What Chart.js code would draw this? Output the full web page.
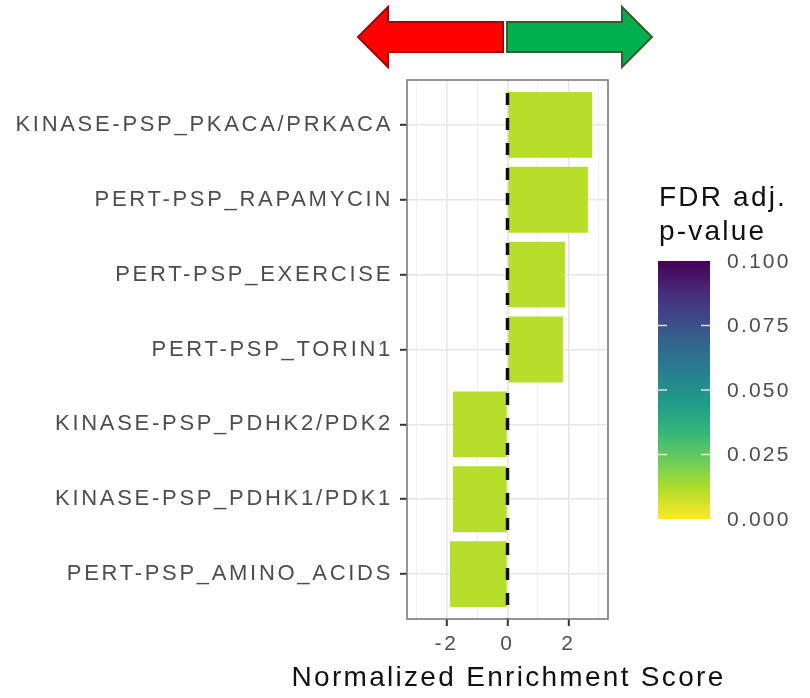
<!DOCTYPE html>
<html>
<head>
<meta charset="utf-8">
<script src="https://cdn.jsdelivr.net/npm/chart.js@4.4.1/dist/chart.umd.min.js"></script>
<style>
  html, body { margin: 0; padding: 0; background: #fff; }
  canvas { display: block; }
</style>
</head>
<body>
<canvas id="nesChart" width="810" height="698"></canvas>
<script>
// gene set names, top to bottom
const pathways = [
  "KINASE-PSP_PKACA/PRKACA",
  "PERT-PSP_RAPAMYCIN",
  "PERT-PSP_EXERCISE",
  "PERT-PSP_TORIN1",
  "KINASE-PSP_PDHK2/PDK2",
  "KINASE-PSP_PDHK1/PDK1",
  "PERT-PSP_AMINO_ACIDS"
];
const nes = [2.78, 2.64, 1.89, 1.82, -1.79, -1.79, -1.89];
const fdr = [0.011, 0.011, 0.011, 0.011, 0.011, 0.011, 0.011];
const xLabels = [-2, 0, 2];
const xGrid = [-3, -2, -1, 0, 1, 2, 3];
const legendTicks = [0.000, 0.025, 0.050, 0.075, 0.100];
const fdrMax = 0.1;
const xTitle = "Normalized Enrichment Score";

// viridis stops (0 -> 1)
const viridis = ["#440154", "#482878", "#3e4989", "#31688e", "#26828e",
                 "#1f9e89", "#35b779", "#6ece58", "#b5de2b", "#fde725"];

function hexToRgb(h) {
  return [parseInt(h.slice(1, 3), 16), parseInt(h.slice(3, 5), 16), parseInt(h.slice(5, 7), 16)];
}
function viridisAt(t) {
  t = Math.max(0, Math.min(1, t));
  const pos = t * (viridis.length - 1);
  const i = Math.min(Math.floor(pos), viridis.length - 2);
  const f = pos - i;
  const a = hexToRgb(viridis[i]), b = hexToRgb(viridis[i + 1]);
  const c = a.map((v, k) => Math.round(v + (b[k] - v) * f));
  return `rgb(${c[0]},${c[1]},${c[2]})`;
}
// low p-value -> yellow
const fdrColor = p => viridisAt(1 - p / fdrMax);

const FONT = "'Liberation Sans', Arial, sans-serif";
const SPACING = "2.7px";

const spacingPlugin = {
  id: "spacing",
  beforeUpdate(chart) { chart.ctx.letterSpacing = SPACING; },
  beforeDraw(chart) {
    const ctx = chart.ctx;
    ctx.letterSpacing = SPACING;
    ctx.save();
    ctx.fillStyle = "#fff";
    ctx.fillRect(0, 0, chart.width, chart.height);
    ctx.restore();
  }
};

const panelPlugin = {
  id: "panel",
  afterDatasetsDraw(chart) {
    const ctx = chart.ctx, a = chart.chartArea;
    const x0 = chart.scales.x.getPixelForValue(0);
    ctx.save();
    // dashed reference line at 0
    ctx.strokeStyle = "#111";
    ctx.lineWidth = 3.5;
    ctx.setLineDash([12, 13]);
    ctx.lineDashOffset = 12;
    ctx.beginPath();
    ctx.moveTo(x0, a.top);
    ctx.lineTo(x0, a.bottom);
    ctx.stroke();
    ctx.setLineDash([]);
    ctx.strokeStyle = "#7a7a7a";
    ctx.lineWidth = 1.6;
    ctx.strokeRect(a.left, a.top, a.right - a.left, a.bottom - a.top);

    // x axis title, centred on the panel
    ctx.fillStyle = "#111";
    ctx.font = `28px ${FONT}`;
    ctx.letterSpacing = "2.3px";
    ctx.textAlign = "center";
    ctx.textBaseline = "middle";
    ctx.fillText(xTitle, (a.left + a.right) / 2 + 1, 678);
    ctx.restore();
  }
};

function drawArrow(ctx, tail, base, tip, fill, stroke) {
  const mid = 37, bodyH = 15, headH = 30;
  ctx.beginPath();
  ctx.moveTo(tail, mid - bodyH);
  ctx.lineTo(base, mid - bodyH);
  ctx.lineTo(base, mid - headH);
  ctx.lineTo(tip, mid);
  ctx.lineTo(base, mid + headH);
  ctx.lineTo(base, mid + bodyH);
  ctx.lineTo(tail, mid + bodyH);
  ctx.closePath();
  ctx.fillStyle = fill;
  ctx.fill();
  ctx.lineWidth = 2;
  ctx.strokeStyle = stroke;
  ctx.stroke();
}

const decorPlugin = {
  id: "decor",
  afterDraw(chart) {
    const ctx = chart.ctx;
    ctx.save();
    // direction arrows
    drawArrow(ctx, 503, 388, 358, "#ff0000", "#a50000");
    drawArrow(ctx, 507, 622, 652, "#00b050", "#3d5a2a");

    // colour bar legend
    const cbX = 658, cbW = 52, cbTop = 261, cbBottom = 519;
    const grad = ctx.createLinearGradient(0, cbBottom, 0, cbTop);
    viridis.slice().reverse().forEach((c, i) => grad.addColorStop(i / (viridis.length - 1), c));
    ctx.fillStyle = grad;
    ctx.fillRect(cbX, cbTop, cbW, cbBottom - cbTop);

    ctx.fillStyle = "#111";
    ctx.font = `28px ${FONT}`;
    ctx.textAlign = "left";
    ctx.textBaseline = "alphabetic";
    ctx.letterSpacing = "2.2px";
    ctx.fillText("FDR adj.", 659, 206);
    ctx.fillText("p-value", 659, 240);

    ctx.font = `21px ${FONT}`;
    ctx.textBaseline = "middle";
    ctx.fillStyle = "#4d4d4d";
    legendTicks.forEach(v => {
      const y = cbBottom - v / fdrMax * (cbBottom - cbTop);
      ctx.fillText(v.toFixed(3), 727, y + 1);
      if (v > 0 && v < fdrMax) {
        ctx.strokeStyle = "rgba(255,255,255,0.8)";
        ctx.lineWidth = 1.5;
        ctx.beginPath();
        ctx.moveTo(cbX, y); ctx.lineTo(cbX + 9, y);
        ctx.moveTo(cbX + cbW - 9, y); ctx.lineTo(cbX + cbW, y);
        ctx.stroke();
      }
    });
    ctx.restore();
  }
};

const data = nes.map((v, i) => ({ x: v, y: i + 1 }));

new Chart(document.getElementById("nesChart"), {
  type: "bar",
  data: {
    datasets: [{
      data: data,
      backgroundColor: fdr.map(fdrColor),
      borderWidth: 0,
      barPercentage: 0.88,
      categoryPercentage: 1
    }]
  },
  options: {
    indexAxis: "y",
    responsive: false,
    animation: false,
    events: [],
    layout: { padding: { top: 80, right: 202, left: 0, bottom: 0 } },
    plugins: { legend: { display: false }, tooltip: { enabled: false } },
    scales: {
      x: {
        type: "linear",
        min: -3.3,
        max: 3.3,
        afterBuildTicks: s => { s.ticks = xGrid.map(v => ({ value: v })); },
        afterFit: s => { s.height = 79; },
        border: { display: false },
        grid: {
          color: c => xLabels.includes(c.tick.value) ? "#e6e6e6" : "#f1f1f1",
          lineWidth: c => xLabels.includes(c.tick.value) ? 1.6 : 1,
          tickColor: c => xLabels.includes(c.tick.value) ? "#333" : "rgba(0,0,0,0)",
          tickLength: 7,
          tickWidth: 2
        },
        ticks: {
          autoSkip: false,
          maxRotation: 0,
          padding: 6,
          color: "#4d4d4d",
          font: { family: FONT, size: 21 },
          callback: v => xLabels.includes(v) ? String(v) : ""
        }
      },
      y: {
        type: "linear",
        reverse: true,
        offset: false,
        min: 0.4,
        max: 7.6,
        afterBuildTicks: s => { s.ticks = pathways.map((_, i) => ({ value: i + 1 })); },
        afterFit: s => { s.width = 407; },
        border: { display: false },
        grid: {
          offset: false,
          color: "#e6e6e6",
          lineWidth: 1.6,
          tickColor: "#333",
          tickLength: 7,
          tickWidth: 2
        },
        ticks: {
          autoSkip: false,
          padding: 7,
          color: "#4d4d4d",
          font: { family: FONT, size: 22 },
          callback: v => pathways[v - 1]
        }
      }
    }
  },
  plugins: [spacingPlugin, panelPlugin, decorPlugin]
});
</script>
</body>
</html>
